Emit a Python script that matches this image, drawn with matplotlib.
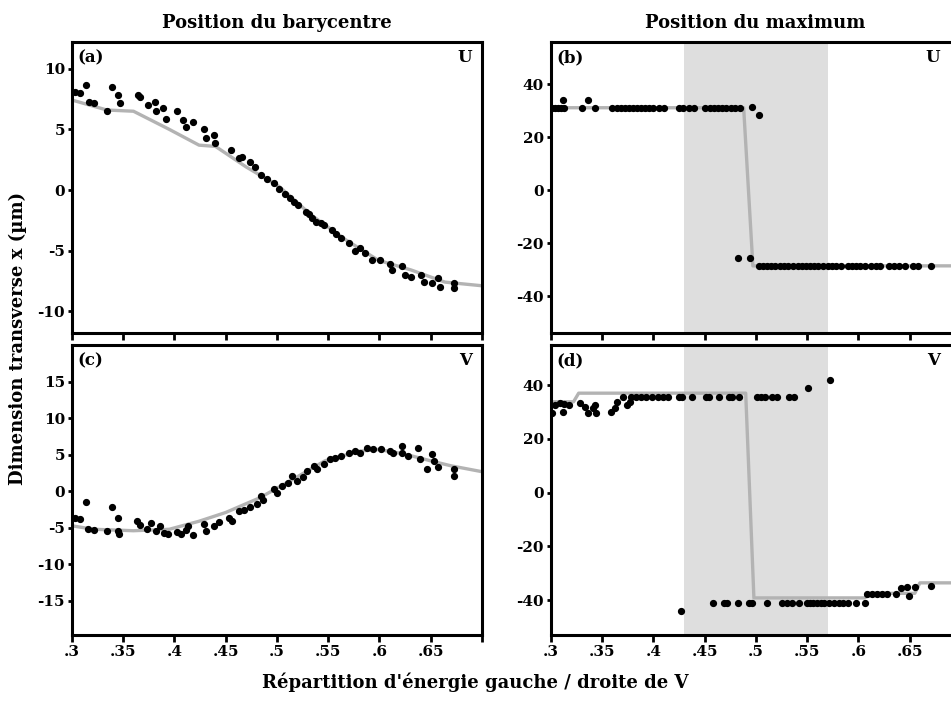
import matplotlib
matplotlib.use("Agg")
import matplotlib.pyplot as plt

plt.rcParams['font.family'] = ['DejaVu Serif']
plt.rcParams['font.weight'] = 'bold'
plt.rcParams['axes.unicode_minus'] = False

# (a) barycentre, U
a_line_x = [0.301, 0.334, 0.36, 0.395, 0.424, 0.44, 0.47, 0.502, 0.534, 0.567, 0.599, 0.631, 0.664, 0.70]
a_line_y = [7.4, 6.6, 6.5, 5.0, 3.7, 3.6, 1.9, 0.3, -2.1, -4.1, -5.8, -6.6, -7.6, -7.9]
a_x = [0.303, 0.308, 0.314, 0.317, 0.321, 0.334, 0.339, 0.345, 0.347, 0.364, 0.366, 0.374, 0.381, 0.382,
       0.389, 0.392, 0.402, 0.408, 0.411, 0.418, 0.429, 0.431, 0.439, 0.44, 0.455, 0.463, 0.466, 0.474,
       0.479, 0.484, 0.497, 0.502, 0.508, 0.513, 0.521, 0.528, 0.534, 0.538, 0.546, 0.554, 0.563, 0.570,
       0.576, 0.586, 0.593, 0.601, 0.61, 0.612, 0.622, 0.625, 0.631, 0.641, 0.644, 0.651, 0.657, 0.659,
       0.673, 0.673, 0.49, 0.517, 0.531, 0.543, 0.558, 0.581]
a_y = [8.1, 8.0, 8.7, 7.3, 7.2, 6.5, 8.5, 7.85, 7.2, 7.85, 7.7, 7.0, 7.3, 6.5,
       6.75, 5.9, 6.5, 5.8, 5.2, 5.6, 5.0, 4.3, 4.5, 3.9, 3.3, 2.6, 2.7, 2.3,
       1.9, 1.2, 0.55, 0.1, -0.3, -0.7, -1.2, -1.8, -2.3, -2.6, -2.9, -3.3, -4.0, -4.4,
       -5.0, -5.2, -5.8, -5.8, -6.1, -6.6, -6.3, -7.0, -7.2, -7.0, -7.6, -7.7, -7.3, -8.0,
       -7.7, -8.1, 0.9, -1.0, -2.0, -2.7, -3.6, -4.8]

# (b) maximum, U
b_line_x = [0.30, 0.488, 0.497, 0.70]
b_line_y = [31.2, 31.2, -28.6, -28.6]
b_x = [0.301, 0.304, 0.307, 0.310, 0.313, 0.330, 0.343, 0.360, 0.364, 0.368, 0.372, 0.376, 0.380,
       0.384, 0.388, 0.392, 0.396, 0.400, 0.405, 0.410, 0.425, 0.429, 0.435, 0.440, 0.450, 0.455,
       0.459, 0.463, 0.467, 0.471, 0.476, 0.480, 0.484, 0.312, 0.336, 0.496, 0.503, 0.482, 0.494,
       0.503, 0.507, 0.511, 0.515, 0.519, 0.523, 0.527, 0.531, 0.536, 0.541, 0.545, 0.549, 0.553,
       0.557, 0.561, 0.565, 0.570, 0.574, 0.578, 0.583, 0.590, 0.594, 0.598, 0.602, 0.606, 0.612,
       0.617, 0.621, 0.630, 0.635, 0.640, 0.645, 0.653, 0.658, 0.671]
b_y = [31.0] * 33 + [34.3, 34.3, 31.3, 28.3, -25.6, -25.6] + [-28.8] * 35

# (c) barycentre, V
c_line_x = [0.301, 0.321, 0.36, 0.395, 0.424, 0.45, 0.483, 0.515, 0.547, 0.58, 0.599, 0.625, 0.651, 0.67, 0.70]
c_line_y = [-4.75, -5.2, -5.4, -5.2, -4.1, -2.9, -0.9, 1.6, 4.2, 5.5, 5.75, 5.1, 4.15, 3.5, 2.7]
c_x = [0.303, 0.308, 0.314, 0.316, 0.321, 0.334, 0.339, 0.345, 0.345, 0.346, 0.363, 0.366, 0.373, 0.377,
       0.382, 0.386, 0.39, 0.394, 0.402, 0.406, 0.411, 0.413, 0.418, 0.429, 0.431, 0.439, 0.443, 0.453,
       0.456, 0.463, 0.468, 0.474, 0.481, 0.484, 0.486, 0.497, 0.5, 0.505, 0.511, 0.515, 0.52, 0.525,
       0.529, 0.536, 0.539, 0.546, 0.552, 0.557, 0.563, 0.57, 0.576, 0.581, 0.588, 0.594, 0.602, 0.61,
       0.613, 0.622, 0.622, 0.628, 0.638, 0.64, 0.646, 0.651, 0.653, 0.657, 0.673, 0.673]
c_y = [-3.6, -3.8, -1.5, -5.2, -5.3, -5.4, -2.2, -3.6, -5.4, -5.8, -4.1, -4.6, -5.2, -4.3,
       -5.4, -4.8, -5.7, -5.9, -5.6, -5.8, -5.3, -4.8, -6.0, -4.5, -5.4, -4.75, -4.2, -3.6,
       -4.0, -2.7, -2.5, -2.2, -1.8, -0.6, -1.2, 0.3, -0.2, 0.7, 1.2, 2.1, 1.4, 1.9,
       2.8, 3.5, 3.1, 3.7, 4.4, 4.6, 4.85, 5.3, 5.5, 5.2, 6.0, 5.8, 5.8, 5.6,
       5.3, 6.2, 5.2, 4.85, 6.0, 4.4, 3.0, 5.1, 4.2, 3.3, 3.0, 2.1]

# (d) maximum, V
d_line_x = [0.30, 0.322, 0.327, 0.49, 0.498, 0.606, 0.613, 0.655, 0.66, 0.70]
d_line_y = [33.8, 33.8, 37.0, 37.0, -39.2, -39.2, -37.5, -37.5, -33.6, -33.6]
d_x = [0.370, 0.378, 0.383, 0.388, 0.393, 0.399, 0.404, 0.409, 0.414, 0.425, 0.428, 0.438, 0.451,
       0.454, 0.464, 0.474, 0.477, 0.483, 0.501, 0.505, 0.509, 0.516, 0.521, 0.532, 0.537,
       0.551, 0.572,
       0.301, 0.304, 0.309, 0.312, 0.313, 0.318, 0.328, 0.333, 0.336, 0.341, 0.343, 0.344, 0.359,
       0.362, 0.364, 0.374, 0.377,
       0.427, 0.458, 0.469, 0.472, 0.482, 0.493, 0.496, 0.511, 0.525, 0.530, 0.535, 0.542, 0.550,
       0.553, 0.556, 0.560, 0.563, 0.566, 0.571, 0.576, 0.581, 0.585, 0.590, 0.598, 0.606,
       0.608, 0.613, 0.618, 0.623, 0.628, 0.637, 0.642, 0.647, 0.649, 0.655, 0.671]
d_y = [35.7] * 25 + [38.8, 41.9,
       29.7, 32.6, 33.2, 30.1, 33.0, 32.6, 33.2, 31.9, 29.5, 31.4, 32.6, 29.5, 30.1,
       31.4, 33.8, 32.6, 33.8,
       -43.9] + [-41.1] * 24 + [-37.9, -37.6, -37.9, -37.6, -37.9, -37.9, -35.5, -35.1, -38.6, -35.1, -34.8]

xticks = [0.3, 0.35, 0.4, 0.45, 0.5, 0.55, 0.6, 0.65, 0.7]
xtick_labels = ['.3', '.35', '.4', '.45', '.5', '.55', '.6', '.65', '']

fig = plt.figure(figsize=(9.51, 7.06), dpi=100)
W = 0.431
ax_a = fig.add_axes([0.0757, 0.5283, W, 0.412])
ax_b = fig.add_axes([0.5794, 0.5283, W, 0.412])
ax_c = fig.add_axes([0.0757, 0.1006, W, 0.411])
ax_d = fig.add_axes([0.5794, 0.1006, W, 0.411])

panels = [
    (ax_a, a_line_x, a_line_y, a_x, a_y, '(a)', 'U', (-11.8, 12.2), [-10, -5, 0, 5, 10]),
    (ax_b, b_line_x, b_line_y, b_x, b_y, '(b)', 'U', (-54, 56), [-40, -20, 0, 20, 40]),
    (ax_c, c_line_x, c_line_y, c_x, c_y, '(c)', 'V', (-19.7, 20.1), [-15, -10, -5, 0, 5, 10, 15]),
    (ax_d, d_line_x, d_line_y, d_x, d_y, '(d)', 'V', (-53, 55), [-40, -20, 0, 20, 40]),
]

for ax, lx, ly, px, py, tag, comp, ylim, yt in panels:
    if ax in (ax_b, ax_d):
        ax.axvspan(0.43, 0.57, color='#dedede', lw=0, zorder=0)
    ax.plot(lx, ly, color='#b3b3b3', lw=2.4, zorder=2)
    ax.plot(px, py, 'o', color='black', ms=4.2, zorder=3)
    ax.set_xlim(0.3, 0.7)
    ax.set_ylim(*ylim)
    ax.set_yticks(yt)
    ax.set_yticklabels([str(v) for v in yt])
    ax.set_xticks(xticks)
    if ax in (ax_c, ax_d):
        ax.set_xticklabels(xtick_labels)
    else:
        ax.set_xticklabels([])
    ax.tick_params(direction='out', length=5, width=2, labelsize=11, pad=2)
    ax.tick_params(axis='y', length=3)
    for sp in ax.spines.values():
        sp.set_linewidth(2.2)
    ax.text(0.012, 0.975, tag, transform=ax.transAxes, ha='left', va='top', fontsize=12, fontweight='bold')
    xr = 0.975 if ax in (ax_a, ax_c) else 0.95
    ax.text(xr, 0.975, comp, transform=ax.transAxes, ha='right', va='top', fontsize=12, fontweight='bold')

fig.text(0.291, 0.968, 'Position du barycentre', ha='center', va='center', fontsize=13, fontweight='bold')
fig.text(0.794, 0.968, 'Position du maximum', ha='center', va='center', fontsize=13, fontweight='bold')
fig.text(0.019, 0.52, 'Dimension transverse x (µm)', rotation=90, ha='center', va='center', fontsize=13, fontweight='bold')
fig.text(0.5, 0.033, "Répartition d'énergie gauche / droite de V", ha='center', va='center', fontsize=13, fontweight='bold')

fig.savefig('out.png', dpi=100)
